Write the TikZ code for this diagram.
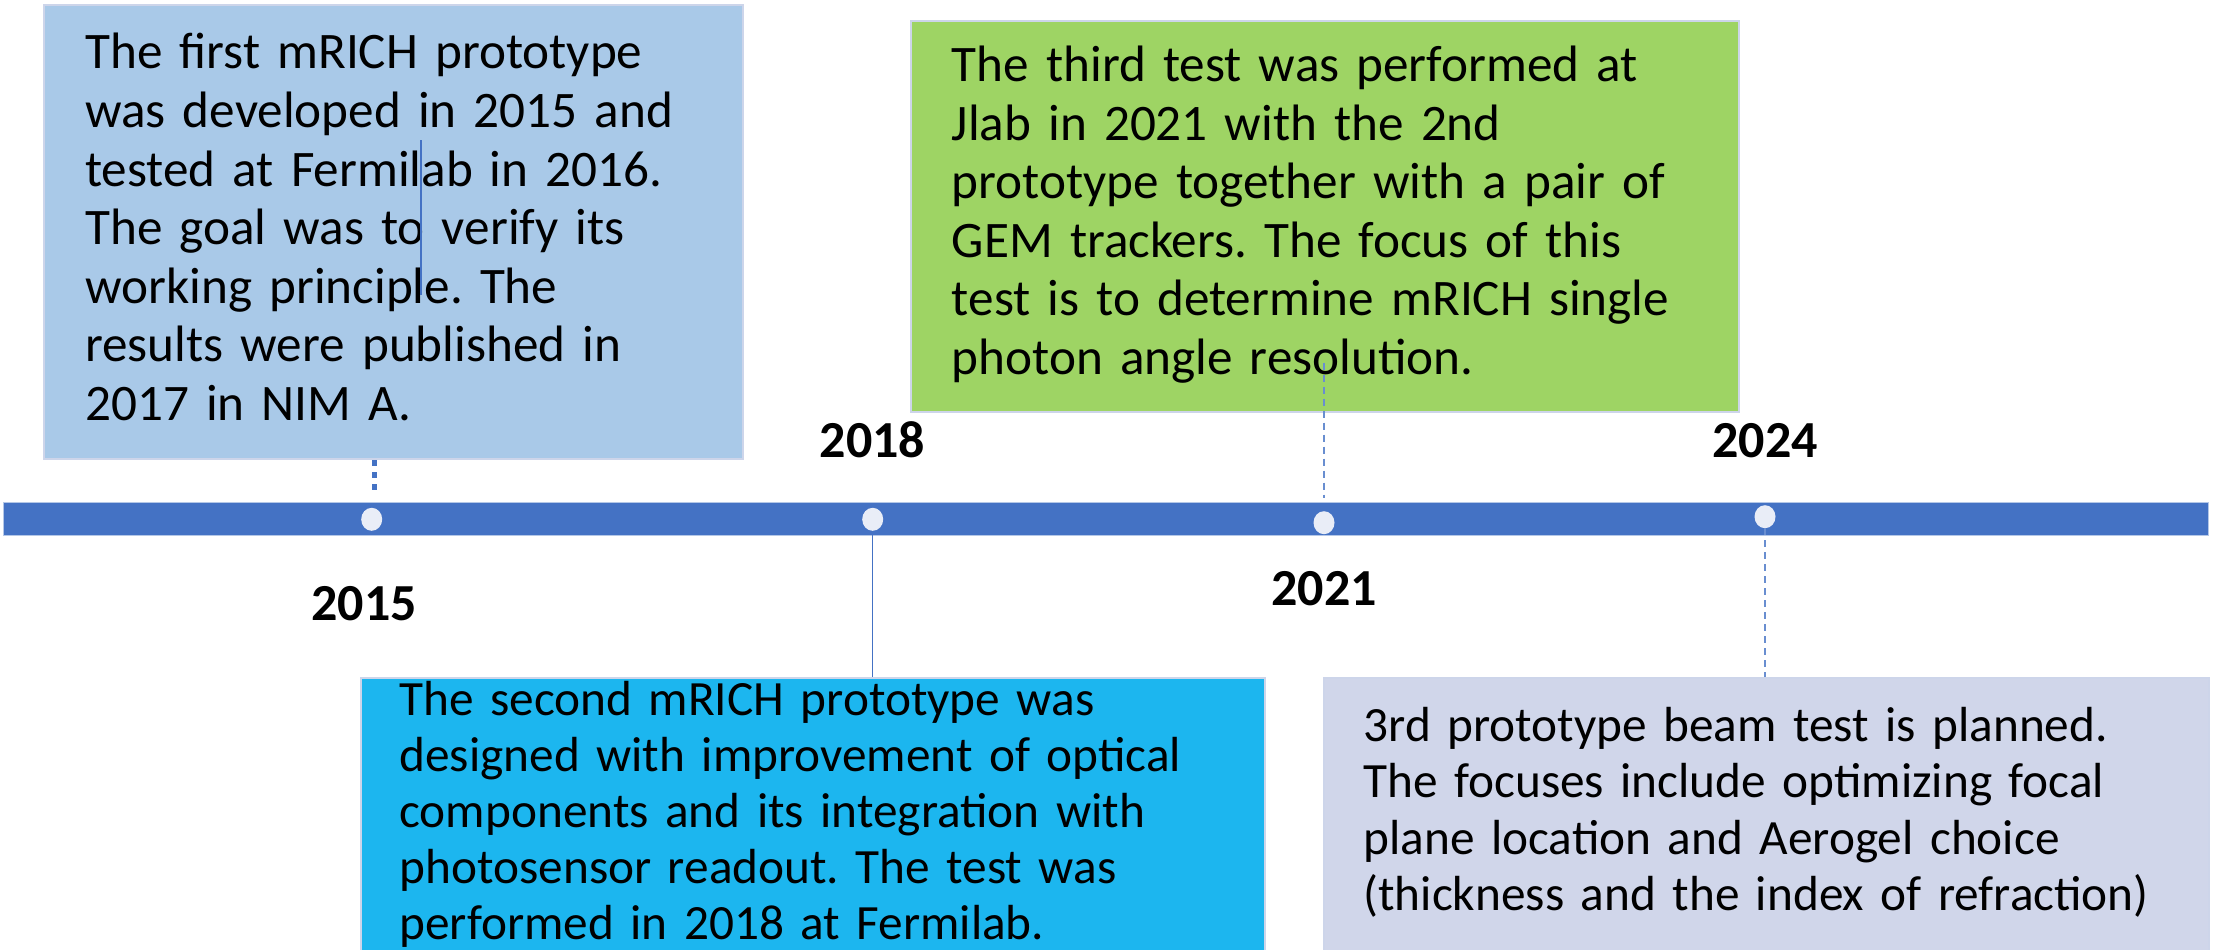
\documentclass[tikz,border=0pt]{standalone}
\usepackage{fontspec}
\setmainfont{Carlito}
\usetikzlibrary{shapes.geometric}
\definecolor{barblue}{HTML}{4472C4}
\definecolor{baredge}{HTML}{B4C7E7}
\definecolor{dotfill}{HTML}{E9EDF7}
\definecolor{boxone}{HTML}{A9C9E8}
\definecolor{boxtwo}{HTML}{1CB6EF}
\definecolor{boxthree}{HTML}{9ED464}
\definecolor{boxfour}{HTML}{D0D6EA}
\definecolor{boxedge}{HTML}{CDD5EA}
\frenchspacing
\begin{document}
\begin{tikzpicture}[x=1pt,y=-1pt,
  panel/.style={rectangle, draw=boxedge, line width=2pt, anchor=north west, inner sep=0pt},
  bigtxt/.style={anchor=base west, inner sep=0pt, text width=1000pt, align=left,
    font=\fontsize{51.2pt}{58.6pt}\selectfont\frenchspacing},
  smalltxt/.style={anchor=base west, inner sep=0pt, text width=1000pt, align=left,
    font=\fontsize{49.3pt}{56.2pt}\selectfont\frenchspacing},
  yearlbl/.style={anchor=base, inner sep=0pt, font=\fontsize{52pt}{60pt}\selectfont\bfseries},
  tick/.style={ellipse, fill=dotfill, draw=none, minimum width=21pt, minimum height=23pt, inner sep=0pt},
  dotline/.style={draw=barblue, line width=5pt, dash pattern=on 6pt off 6pt},
  thinline/.style={draw=barblue, line width=1pt},
  dashline/.style={draw=barblue!80, line width=1.2pt, dash pattern=on 7pt off 5pt}]
\useasboundingbox (0,0) rectangle (2216,950);
\clip (0,0) rectangle (2216,950);
\fill[white] (0,0) rectangle (2216,950);

% boxes
\node[panel, fill=boxone, minimum width=699pt, minimum height=454pt] (b1) at (42.7,4) {};
\node[panel, fill=boxthree, minimum width=828pt, minimum height=391pt] (b3) at (910,20) {};
\node[panel, fill=boxtwo, minimum width=904pt, minimum height=320pt] (b2) at (359.5,677) {};
\node[panel, fill=boxfour, minimum width=885pt, minimum height=320pt] (b4) at (1322.7,677) {};

% timeline bar
\node[rectangle, fill=barblue, draw=baredge, line width=1pt, anchor=north west, inner sep=0pt,
  minimum width=2205pt, minimum height=33.3pt] (bar) at (3,501.7) {};

% tick marks
\node[tick] (c15) at (371.7,519.3) {};
\node[tick] (c18) at (872.7,519.3) {};
\node[tick] (c21) at (1324,522.7) {};
\node[tick] (c24) at (1765,516.7) {};

% connectors
\coordinate (d15) at (374,495);
\draw[dotline] (d15 |- b1.south) -- (d15);
\draw[thinline] (c18.south) -- (c18 |- b2.north);
\coordinate (t21) at (1324,362.5);
\coordinate (e21) at (1324,498);
\draw[dashline] (t21) -- (e21);
\draw[dashline] (c24.south) -- (c24 |- b4.north);

% year labels
\node[yearlbl] (y15) at (364,620) {2015};
\node[yearlbl] (y18) at (872.5,457) {2018};
\node[yearlbl] (y21) at (1324,605) {2021};
\node[yearlbl] (y24) at (1765,457) {2024};

% box texts
\node[bigtxt] (t1) at (85,69) {The first mRICH prototype\\was developed in 2015 and\\tested at Fermilab in 2016.\\The goal was to verify its\\working principle. The\\results were published in\\2017 in NIM A.};
\node[bigtxt] (t3) at (951.7,81.4) {The third test was performed at\\Jlab in 2021 with the 2nd\\prototype together with a pair of\\GEM trackers. The focus of this\\test is to determine mRICH single\\photon angle resolution.};
\node[smalltxt] (t2) at (399.3,715) {The second mRICH prototype was\\designed with improvement of optical\\components and its integration with\\photosensor readout. The test was\\performed in 2018 at Fermilab.};
\node[smalltxt] (t4) at (1363.3,741.7) {3rd prototype beam test is planned.\\The focuses include optimizing focal\\plane location and Aerogel choice\\(thickness and the index of refraction)};

% stray thin line in first box
\coordinate (s1) at (421,140);
\coordinate (s2) at (421,295);
\draw[thinline, line width=1.3pt] (s1) -- (s2);
\end{tikzpicture}
\end{document}
